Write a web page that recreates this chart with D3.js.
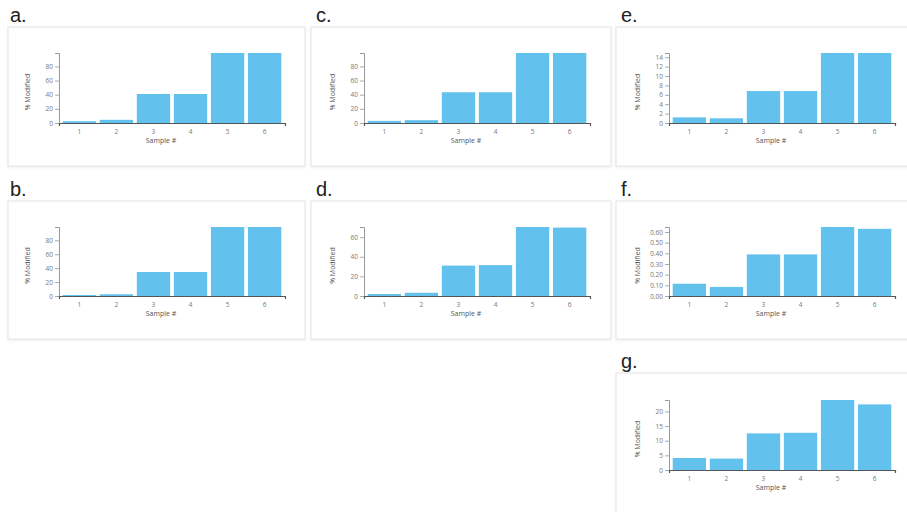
<!DOCTYPE html>
<html><head><meta charset="utf-8">
<script src="https://cdn.jsdelivr.net/npm/d3@7"></script>
<style>body{margin:0;background:#fff;} svg{display:block;}</style>
</head><body><svg id="c" width="907" height="512"></svg>
<script>
// ---- data ----
const samples = ["1", "2", "3", "4", "5", "6"];
const panelLabels = ["a.", "b.", "c.", "d.", "e.", "f.", "g."];
const valuesA = [2.5, 4.5, 41, 41, 99, 99];
const valuesB = [1.5, 2.5, 34.5, 34.5, 99.2, 99.2];
const valuesC = [3, 4, 43.5, 43.5, 99, 99];
const valuesD = [2, 3.3, 31, 31.5, 70.4, 69.8];
const valuesE = [1.2, 1.0, 6.8, 6.8, 14.9, 14.9];
const valuesF = [0.115, 0.085, 0.39, 0.39, 0.647, 0.63];
const valuesG = [4.1, 3.9, 12.5, 12.7, 23.9, 22.4];
const ticksA = [0, 20, 40, 60, 80];
const ticksB = [0, 20, 40, 60, 80];
const ticksC = [0, 20, 40, 60, 80];
const ticksD = [0, 20, 40, 60];
const ticksE = [0, 2, 4, 6, 8, 10, 12, 14];
const ticksF = [0, 0.1, 0.2, 0.3, 0.4, 0.5, 0.6];
const ticksG = [0, 5, 10, 15, 20];
const xTitle = "Sample #";
const yTitle = "% Modified";

// ---- layout ----
const panels = [
  {label: panelLabels[0], values: valuesA, ticks: ticksA, fmt: "d",   col: 0, row: 0},
  {label: panelLabels[1], values: valuesB, ticks: ticksB, fmt: "d",   col: 0, row: 1},
  {label: panelLabels[2], values: valuesC, ticks: ticksC, fmt: "d",   col: 1, row: 0},
  {label: panelLabels[3], values: valuesD, ticks: ticksD, fmt: "d",   col: 1, row: 1},
  {label: panelLabels[4], values: valuesE, ticks: ticksE, fmt: "d",   col: 2, row: 0},
  {label: panelLabels[5], values: valuesF, ticks: ticksF, fmt: ".2f", col: 2, row: 1},
  {label: panelLabels[6], values: valuesG, ticks: ticksG, fmt: "d",   col: 2, row: 2}
];
const cardX = [8, 311, 616], cardW = [297, 300, 300];
const cardY = [27, 201, 373], cardH = [139, 138, 145];
const labelX = [10, 316, 621];
const axisX = [59, 364, 669];
const axisTop = [53, 227, 400];
const plotH = [70, 69, 70];
const plotW = 226;
const barColor = "#62c1ed";

const svg = d3.select("#c");
const defs = svg.append("defs");
const f = defs.append("filter").attr("id", "sh").attr("x", "-5%").attr("y", "-5%").attr("width", "110%").attr("height", "115%");
f.append("feDropShadow").attr("dx", 0).attr("dy", 1).attr("stdDeviation", 1.2).attr("flood-color", "#000").attr("flood-opacity", 0.08);

panels.forEach(p => {
  const g = svg.append("g");
  g.append("rect")
    .attr("x", cardX[p.col]).attr("y", cardY[p.row])
    .attr("width", cardW[p.col]).attr("height", cardH[p.row])
    .attr("fill", "#fff").attr("stroke", "#e4e4e4").attr("stroke-width", 1)
    .attr("filter", "url(#sh)");
  g.append("text")
    .attr("x", labelX[p.col]).attr("y", cardY[p.row] - 5.5)
    .attr("font-family", "Liberation Sans, Arial, sans-serif")
    .attr("font-size", 20).attr("fill", "#222").text(p.label);

  const ax = axisX[p.col], top = axisTop[p.row], zero = top + plotH[p.row];
  const x = d3.scaleBand().domain(samples).range([ax, ax + plotW]).padding(0.1);
  const y = d3.scaleLinear().domain([0, d3.max(p.values)]).range([zero, top]);

  g.selectAll("rect.bar").data(p.values).join("rect").attr("class", "bar")
    .attr("x", (d, i) => x(samples[i])).attr("y", d => y(d))
    .attr("width", x.bandwidth()).attr("height", d => zero - y(d))
    .attr("fill", barColor);

  const yAxis = g.append("g").attr("transform", `translate(${ax},0)`)
    .call(d3.axisLeft(y).tickValues(p.ticks).tickFormat(d3.format(p.fmt))
      .tickSizeInner(4).tickSizeOuter(4).tickPadding(2));
  yAxis.select(".domain").attr("stroke", "#999");
  yAxis.selectAll(".tick line").attr("stroke", "#aaa");
  yAxis.selectAll(".tick text").attr("fill", "#777").attr("font-size", 6.5)
    .attr("font-family", "Open Sans, sans-serif");

  const xAxis = g.append("g").attr("transform", `translate(0,${zero})`)
    .call(d3.axisBottom(x).tickSizeInner(0).tickSizeOuter(3).tickPadding(6));
  xAxis.select(".domain").attr("stroke", "#555").attr("stroke-width", 1.2);
  xAxis.selectAll(".tick text").attr("fill", "#777").attr("font-size", 6.5)
    .attr("font-family", "Open Sans, sans-serif");

  g.append("text").attr("x", ax + 102).attr("y", zero + 20)
    .attr("text-anchor", "middle").attr("font-family", "Open Sans, sans-serif")
    .attr("font-size", 7).attr("fill", "#555").text(xTitle);
  g.append("text")
    .attr("transform", `translate(${ax - 29},${(top + zero) / 2 + 4}) rotate(-90)`)
    .attr("text-anchor", "middle").attr("font-family", "Open Sans, sans-serif")
    .attr("font-size", 7).attr("fill", "#555").text(yTitle);
});
</script></body></html>
